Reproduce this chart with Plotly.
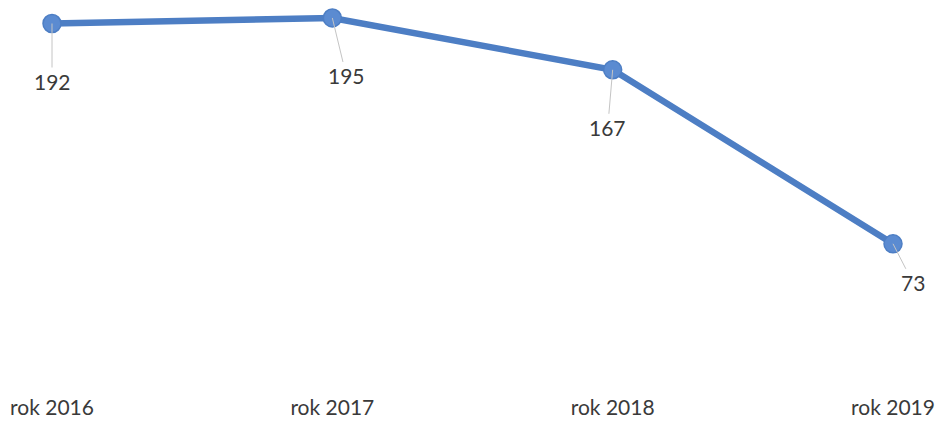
import plotly.graph_objects as go

# Yearly counts
years = ["rok 2016", "rok 2017", "rok 2018", "rok 2019"]
values = [192, 195, 167, 73]

# Label offsets (pixels) for the value call-outs
label_dx = [0, 14, -5, 20]
label_dy = [58, 58, 58, 39]

x_pos = list(range(len(years)))

FONT = "Lato, Carlito, sans-serif"
TEXT_COLOR = "#3a3a3a"

fig = go.Figure()
fig.add_trace(go.Scatter(
    x=x_pos, y=values,
    mode="lines+markers",
    line=dict(color="#4d7ec4", width=6.5),
    marker=dict(size=18, color="#5b8bd1", line=dict(color="#4d7ec4", width=1.5)),
    hoverinfo="skip",
))

for xi, v, dx, dy in zip(x_pos, values, label_dx, label_dy):
    fig.add_annotation(
        x=xi, y=v, text=str(v),
        showarrow=True, arrowhead=0, arrowwidth=1, arrowcolor="#c4c4c4",
        ax=dx, ay=dy, standoff=0, startstandoff=0,
        font=dict(family=FONT, size=21, color=TEXT_COLOR),
    )

fig.update_layout(
    width=938, height=423,
    margin=dict(l=0, r=0, t=0, b=30),
    paper_bgcolor="white", plot_bgcolor="white",
    showlegend=False,
    font=dict(family=FONT, size=21, color=TEXT_COLOR),
    xaxis=dict(
        range=[-0.1855, 3.1605],
        tickvals=x_pos, ticktext=years,
        showgrid=False, zeroline=False, showline=False, ticks="",
        tickfont=dict(size=21, color=TEXT_COLOR),
        fixedrange=True,
    ),
    yaxis=dict(
        range=[-7.6, 204.7],
        visible=False, showgrid=False, zeroline=False,
        fixedrange=True,
    ),
)

fig.write_html("out.html")
